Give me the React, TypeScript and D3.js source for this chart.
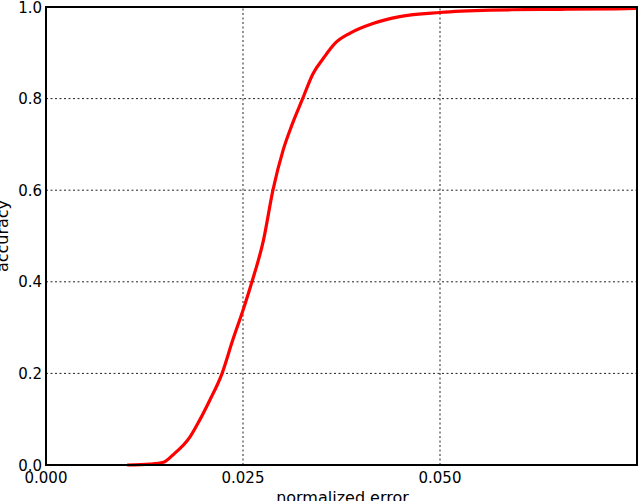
import React from 'react';
import * as d3 from 'd3';

// normalized error (x) vs accuracy (y)
const errorValues = [
	0.0103, 0.0132, 0.0149, 0.0161, 0.0183, 0.0195, 0.0208, 0.0223, 0.0237, 0.025, 0.0261, 0.0276, 0.0288,
	0.0301, 0.0312, 0.0325, 0.0339, 0.0352, 0.0367, 0.0386, 0.0415, 0.0449, 0.05, 0.0564, 0.0591, 0.0652,
	0.0723, 0.075,
];
const accuracyValues = [
	0.0, 0.002, 0.006, 0.022, 0.062, 0.098, 0.142, 0.198, 0.273, 0.338, 0.398, 0.491, 0.6, 0.688, 0.742,
	0.797, 0.855, 0.888, 0.921, 0.943, 0.964, 0.979, 0.988, 0.993, 0.994, 0.995, 0.996, 0.997,
];
const xTicks = [0, 0.025, 0.05];
const yTicks = [0, 0.2, 0.4, 0.6, 0.8, 1.0];

const width = 640;
const height = 501;
const margin = { top: 7, right: 3, bottom: 36, left: 46 };

export default function App() {
	const xScale = d3
		.scaleLinear()
		.domain([0, 0.075])
		.range([margin.left, width - margin.right]);
	const yScale = d3
		.scaleLinear()
		.domain([0, 1])
		.range([height - margin.bottom, margin.top]);

	const points: [number, number][] = errorValues.map((e, i) => [e, accuracyValues[i]]);
	const makeLinePath = d3
		.line<[number, number]>()
		.x(d => xScale(d[0]))
		.y(d => yScale(d[1]))
		.curve(d3.curveMonotoneX);

	const font = '"DejaVu Sans", sans-serif';
	const x0 = margin.left;
	const x1 = width - margin.right;
	const y0 = height - margin.bottom;
	const y1 = margin.top;

	return (
		<svg
			width={width}
			height={height}
			style={{ position: 'absolute', left: 0, top: 0, background: '#fff' }}
			fontFamily={font}
		>
			{/* grid */}
			{xTicks.slice(1).map(t => (
				<line
					key={'gx' + t}
					x1={xScale(t)}
					x2={xScale(t)}
					y1={y0}
					y2={y1}
					stroke="#222"
					strokeWidth={1}
					strokeDasharray="2,2.5"
				/>
			))}
			{yTicks.slice(1, -1).map(t => (
				<line
					key={'gy' + t}
					x1={x0}
					x2={x1}
					y1={yScale(t)}
					y2={yScale(t)}
					stroke="#222"
					strokeWidth={1}
					strokeDasharray="2,2.5"
				/>
			))}

			{/* curve */}
			<path d={makeLinePath(points) || ''} fill="none" stroke="#ff0000" strokeWidth={3.2} strokeLinejoin="round" />

			{/* frame */}
			<rect x={x0} y={y1} width={x1 - x0} height={y0 - y1} fill="none" stroke="#000" strokeWidth={2} />

			{/* tick labels */}
			{xTicks.map(t => (
				<text key={'tx' + t} x={xScale(t)} y={y0 + 18} textAnchor="middle" fontSize={15} fill="#000">
					{d3.format('.3f')(t)}
				</text>
			))}
			{yTicks.map(t => (
				<text
					key={'ty' + t}
					x={x0 - 4}
					y={yScale(t) + 5.5}
					textAnchor="end"
					fontSize={15}
					fill="#000"
				>
					{d3.format('.1f')(t)}
				</text>
			))}

			{/* axis labels */}
			<text x={(x0 + x1) / 2 + 1} y={y0 + 38} textAnchor="middle" fontSize={16} fill="#000">
				normalized error
			</text>
			<text
				transform={`translate(8,${(y0 + y1) / 2}) rotate(-90)`}
				textAnchor="middle"
				fontSize={16}
				fill="#000"
			>
				accuracy
			</text>
		</svg>
	);
}
